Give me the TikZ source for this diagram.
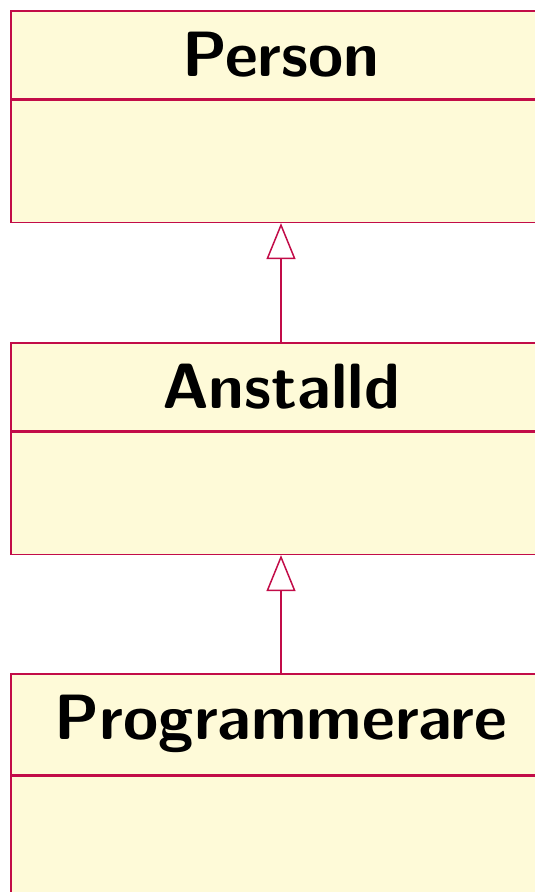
\documentclass[tikz,border=0pt]{standalone}
\usepackage{fontspec}
\usetikzlibrary{arrows.meta}
\definecolor{umlfill}{RGB}{254,250,216}
\definecolor{umlline}{RGB}{194,12,72}
\begin{document}
\begin{tikzpicture}[x=1pt,y=1pt,
  header/.style={draw=umlline, fill=umlfill, line width=1.5pt, minimum width=540pt,
     inner xsep=0pt, inner ysep=21.5pt, anchor=north,
     font=\sffamily\bfseries\fontsize{64}{77}\selectfont},
  body/.style={draw=umlline, fill=umlfill, line width=1.5pt, minimum width=540pt,
     minimum height=122pt, inner sep=0pt, anchor=north},
  inherit/.style={draw=umlline, line width=1.5pt,
     -{Triangle[open, length=36pt, width=29pt, fill=white]}}]
\useasboundingbox (0,0) rectangle (535,-892);
\node[header] (p) at (281,-10) {Person};
\node[body] (pb) at (p.south) {};
\node[header] (a) at (281,-342) {Anstalld};
\node[body] (ab) at (a.south) {};
\node[header] (g) at (281,-673) {Programmerare};
\node[body, minimum height=240pt] (gb) at (g.south) {};
\draw[inherit] (a.north) -- (pb.south);
\draw[inherit] (g.north) -- (ab.south);
\end{tikzpicture}
\end{document}
